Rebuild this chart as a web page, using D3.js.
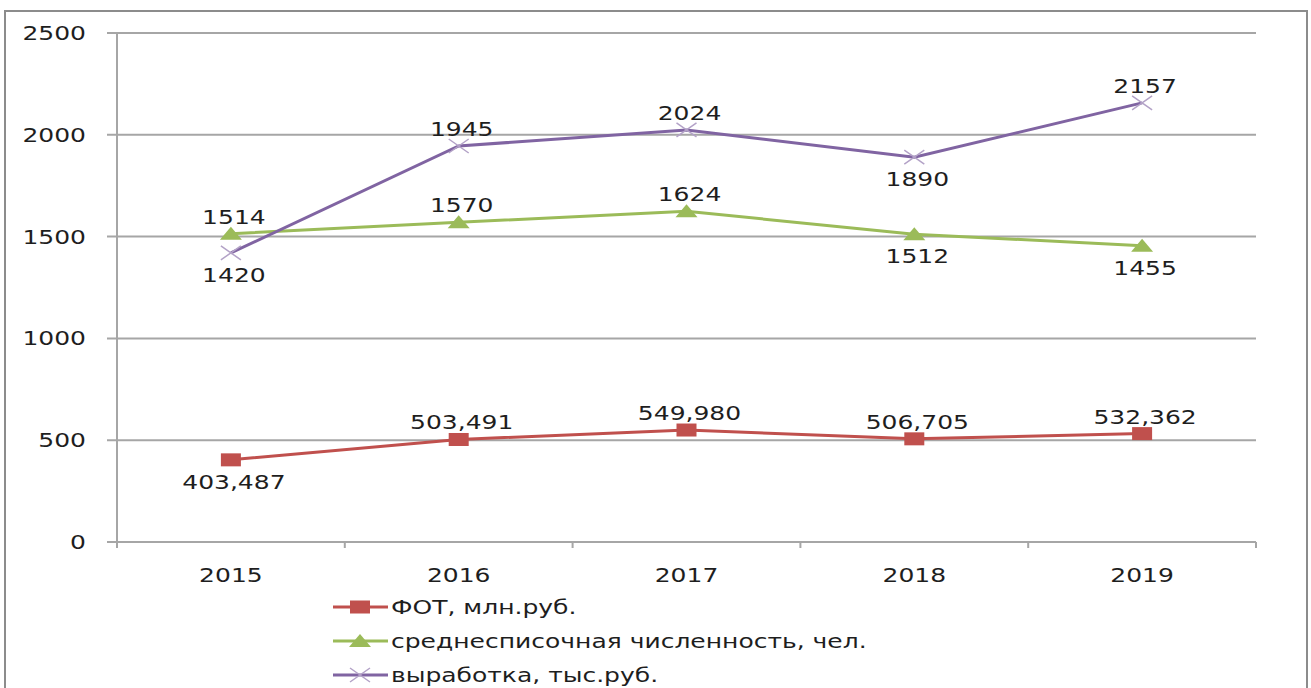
<!DOCTYPE html>
<html>
<head>
<meta charset="utf-8">
<script src="https://d3js.org/d3.v7.min.js"></script>
<style>
  body { margin: 0; background: #fff; }
  text { font-family: "DejaVu Sans", Verdana, sans-serif; fill: #1e1e1e; }
</style>
</head>
<body>
<div id="chart"></div>
<script>
// data
const years = ["2015", "2016", "2017", "2018", "2019"];
const fot = [403.487, 503.491, 549.980, 506.705, 532.362];
const fotLabels = ["403,487", "503,491", "549,980", "506,705", "532,362"];
const staff = [1514, 1570, 1624, 1512, 1455];
const output = [1420, 1945, 2024, 1890, 2157];
const yTicks = [0, 500, 1000, 1500, 2000, 2500];
// label side for each point: -1 above, 1 below
const fotPos = [1, -1, -1, -1, -1];
const staffPos = [-1, -1, -1, 1, 1];
const outputPos = [1, -1, -1, 1, -1];

const W = 1311, H = 688;
const sx = 1.25; // picture is stretched sideways
const fs = 20;

const svg = d3.select("#chart").append("svg")
  .attr("width", W).attr("height", H);

// outer frame
svg.append("rect").attr("x", 5).attr("y", 11).attr("width", 1302).attr("height", 680)
  .attr("fill", "none").attr("stroke", "#8c8c8c").attr("stroke-width", 2);

const x = d3.scaleBand().domain(years).range([117, 1256]);
const y = d3.scaleLinear().domain([0, 2500]).range([542, 33]);
const cx = d => x(d) + x.bandwidth() / 2;

function label(g, txt, px, py, anchor) {
  g.append("text")
    .attr("transform", `translate(${px},${py}) scale(${sx},1)`)
    .attr("text-anchor", anchor || "middle")
    .attr("font-size", fs)
    .text(txt);
}

// gridlines + y ticks
const grid = svg.append("g");
yTicks.forEach(t => {
  grid.append("line").attr("x1", 107).attr("x2", 1256)
    .attr("y1", y(t)).attr("y2", y(t))
    .attr("stroke", "#a6a6a6").attr("stroke-width", 2);
  label(grid, t, 86, y(t) + 7, "end");
});
grid.append("line").attr("x1", 117).attr("x2", 117)
  .attr("y1", y(2500)).attr("y2", y(0) + 5)
  .attr("stroke", "#a6a6a6").attr("stroke-width", 2);
x.domain().concat(["end"]).forEach((d, i) => {
  const px = 117 + i * x.bandwidth();
  grid.append("line").attr("x1", px).attr("x2", px)
    .attr("y1", y(0)).attr("y2", y(0) + 6)
    .attr("stroke", "#a6a6a6").attr("stroke-width", 2);
});
years.forEach(d => label(grid, d, cx(d), 582));

const line = d3.line().x((d, i) => cx(years[i])).y(d => y(d));

function markerSquare(g, px, py, color) {
  g.append("rect").attr("x", px - 10).attr("y", py - 6.5)
    .attr("width", 20).attr("height", 13).attr("fill", color);
}
function markerTri(g, px, py, color) {
  g.append("path")
    .attr("d", `M${px - 11},${py + 6}L${px + 11},${py + 6}L${px},${py - 7}Z`)
    .attr("fill", color);
}
function markerX(g, px, py, color) {
  g.append("path")
    .attr("d", `M${px - 10},${py - 7}L${px + 10},${py + 7}M${px - 10},${py + 7}L${px + 10},${py - 7}`)
    .attr("stroke", color).attr("stroke-width", 1.5).attr("fill", "none");
}

const series = [
  { vals: fot, labels: fotLabels, pos: fotPos, color: "#c0504d", marker: markerSquare, mcolor: "#c0504d", name: "ФОТ, млн.руб." },
  { vals: staff, labels: staff, pos: staffPos, color: "#9bbb59", marker: markerTri, mcolor: "#9bbb59", name: "среднесписочная численность, чел." },
  { vals: output, labels: output, pos: outputPos, color: "#8064a2", marker: markerX, mcolor: "#b3a2c7", name: "выработка, тыс.руб." }
];

series.forEach(s => {
  const g = svg.append("g");
  g.append("path").datum(s.vals).attr("d", line)
    .attr("fill", "none").attr("stroke", s.color).attr("stroke-width", 3);
  s.vals.forEach((v, i) => s.marker(g, cx(years[i]), y(v), s.mcolor));
  s.vals.forEach((v, i) => {
    const py = s.pos[i] < 0 ? y(v) - 10 : y(v) + 29;
    label(g, s.labels[i], cx(years[i]) + 3, py);
  });
});

// legend
const leg = svg.append("g");
series.forEach((s, i) => {
  const ly = 607 + i * 34;
  leg.append("line").attr("x1", 333).attr("x2", 388).attr("y1", ly).attr("y2", ly)
    .attr("stroke", s.color).attr("stroke-width", 3);
  s.marker(leg, 360, ly, s.mcolor);
  label(leg, s.name, 391, ly + 7, "start");
});
</script>
</body>
</html>
